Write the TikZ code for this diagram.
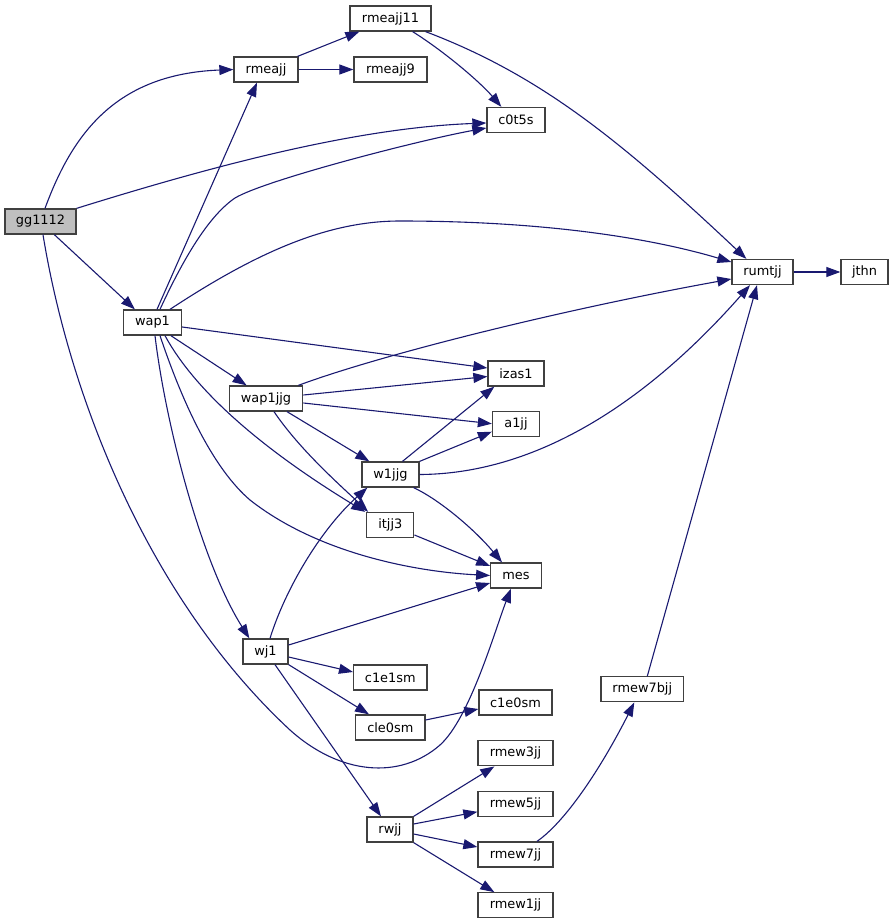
\documentclass[tikz,border=0pt]{standalone}
\usepackage{fontspec}
\setmainfont{DejaVu Sans}
\usetikzlibrary{arrows.meta}
\definecolor{edgeblue}{HTML}{191970}
\definecolor{rootgrey}{HTML}{BFBFBF}
\tikzset{
  fn/.style={draw=black!75, line width=1.3pt, fill=white, inner sep=0pt,
    minimum height=25pt, font=\fontsize{12.9}{15}\selectfont, text=black},
  call/.style={draw=edgeblue, line width=1.1pt, -{Triangle[length=14pt,width=10pt]}},
}
\begin{document}
\begin{tikzpicture}[x=1pt,y=-1pt]
\useasboundingbox (0,0) rectangle (893,924);
% nodes
\node[fn, fill=rootgrey, minimum width=71pt] (gg1112) at (40.5,221.5) {gg1112};
\node[fn, minimum width=64pt] (rmeajj) at (266,69.5) {rmeajj};
\node[fn, minimum width=81pt] (rmeajj11) at (390.5,18.5) {rmeajj11};
\node[fn, minimum width=73pt] (rmeajj9) at (390.5,69.5) {rmeajj9};
\node[fn, minimum width=58pt] (c0t5s) at (516,120) {c0t5s};
\node[fn, minimum width=61pt] (rumtjj) at (762.5,272) {rumtjj};
\node[fn, minimum width=47pt] (jthn) at (864.5,272) {jthn};
\node[fn, minimum width=58pt] (wap1) at (152.5,322.5) {wap1};
\node[fn, minimum width=73.5pt] (wap1jjg) at (266,398.5) {wap1jjg};
\node[fn, minimum width=56pt] (izas1) at (516,373.5) {izas1};
\node[fn, minimum width=47pt] (a1jj) at (516,423.7) {a1jj};
\node[fn, minimum width=57pt] (w1jjg) at (390.5,474.5) {w1jjg};
\node[fn, minimum width=47pt] (itjj3) at (390.3,525) {itjj3};
\node[fn, minimum width=50.5pt] (mes) at (516,575.5) {mes};
\node[fn, minimum width=45pt] (wj1) at (265.5,651.5) {wj1};
\node[fn, minimum width=73.3pt] (c1e1sm) at (390.3,677.5) {c1e1sm};
\node[fn, minimum width=69.3pt] (cle0sm) at (390.3,727.5) {cle0sm};
\node[fn, minimum width=73pt] (c1e0sm) at (515.5,702.5) {c1e0sm};
\node[fn, minimum width=82.7pt] (rmew7bjj) at (642.3,689.3) {rmew7bjj};
\node[fn, minimum width=75pt] (rmew3jj) at (515.5,753.3) {rmew3jj};
\node[fn, minimum width=75pt] (rmew5jj) at (515.5,803.8) {rmew5jj};
\node[fn, minimum width=46pt] (rwjj) at (390,829.5) {rwjj};
\node[fn, minimum width=75pt] (rmew7jj) at (515.5,854.5) {rmew7jj};
\node[fn, minimum width=75pt] (rmew1jj) at (515.5,905.3) {rmew1jj};
% edges from gg1112
\draw[call] ([xshift=4.5pt]gg1112.north) .. controls (72,135) and (115,74) .. (rmeajj.west);
\draw[call] (gg1112.north east) .. controls (200,170) and (350,128) .. ([yshift=-3pt]c0t5s.west);
\draw[call] ([xshift=50pt]gg1112.south west) -- ([xshift=12pt]wap1.north west);
\draw[call] ([xshift=2.5pt]gg1112.south) .. controls (70,400) and (150,600) .. (290,730)
  .. controls (340,775) and (400,780) .. (440,745)
  .. controls (470,718) and (495,630) .. ([xshift=-5pt]mes.south);
% rmeajj, rmeajj11
\draw[call] ([xshift=-1pt]rmeajj.north east) -- ([xshift=10pt]rmeajj11.south west);
\draw[call] (rmeajj.east) -- (rmeajj9.west);
\draw[call] ([xshift=-19pt]rmeajj11.south east) .. controls (445,52) and (480,82) .. ([xshift=15pt]c0t5s.north west);
\draw[call] ([xshift=-6pt]rmeajj11.south east) .. controls (540,75) and (620,140) .. ([xshift=15pt]rumtjj.north west);
% wap1
\draw[call] ([xshift=4.5pt]wap1.north) -- ([xshift=-9pt]rmeajj.south);
\draw[call] ([xshift=7.5pt]wap1.north) .. controls (185,255) and (210,215) .. (235,198)
  .. controls (265,180) and (420,140) .. ([yshift=-8pt]c0t5s.west);
\draw[call] ([xshift=17.5pt]wap1.north) .. controls (260,250) and (330,221) .. (400,221)
  .. controls (530,221) and (640,235) .. ([yshift=10pt]rumtjj.west);
\draw[call] ([yshift=-4.5pt]wap1.east) -- ([yshift=5.5pt]izas1.west);
\draw[call] ([xshift=48pt]wap1.south west) -- ([xshift=18pt]wap1jjg.north west);
\draw[call] ([xshift=2.5pt]wap1.south) .. controls (165,420) and (200,560) .. ([xshift=7pt]wj1.north west);
\draw[call] ([xshift=7.5pt]wap1.south) .. controls (185,410) and (215,470) .. (250,500)
  .. controls (320,555) and (420,572) .. (mes.west);
\draw[call] ([xshift=12.5pt]wap1.south) .. controls (200,400) and (280,460) .. ([xshift=-1pt]itjj3.north west);
% wap1jjg
\draw[call] ([xshift=-5pt]wap1jjg.north east) .. controls (380,355) and (560,310) .. ([yshift=-7pt]rumtjj.west);
\draw[call] ([yshift=3.5pt]wap1jjg.east) -- ([yshift=-3pt]izas1.west);
\draw[call] ([yshift=-4.5pt]wap1jjg.east) -- (a1jj.west);
\draw[call] ([xshift=21pt]wap1jjg.south) -- ([xshift=8pt]w1jjg.north west);
\draw[call] ([xshift=8pt]wap1jjg.south) .. controls (300,450) and (340,485) .. ([xshift=2pt]itjj3.north west);
% w1jjg
\draw[call] ([xshift=12pt]w1jjg.north) -- ([xshift=7pt]izas1.south west);
\draw[call] (w1jjg.north east) -- ([yshift=-8pt]a1jj.west);
\draw[call] (w1jjg.east) .. controls (530,474) and (640,410) .. ([xshift=-12.5pt]rumtjj.south);
\draw[call] ([xshift=-6pt]w1jjg.south east) .. controls (440,500) and (475,530) .. ([xshift=-14pt]mes.north);
% itjj3
\draw[call] ([yshift=-10pt]itjj3.east) -- ([yshift=9.5pt]mes.west);
% wj1
\draw[call] ([xshift=4.5pt]wj1.north) .. controls (285,590) and (320,530) .. ([xshift=6pt]w1jjg.south west);
\draw[call] ([yshift=6.5pt]wj1.east) -- ([yshift=-7.5pt]mes.west);
\draw[call] ([yshift=-5.5pt]wj1.east) -- ([yshift=5.5pt]c1e1sm.west);
\draw[call] (wj1.south east) -- ([xshift=14pt]cle0sm.north west);
\draw[call] ([xshift=9.5pt]wj1.south) -- ([xshift=-9pt]rwjj.north);
% cle0sm
\draw[call] ([yshift=7.5pt]cle0sm.east) -- ([yshift=-6.5pt]c1e0sm.west);
% rwjj
\draw[call] (rwjj.north east) -- ([xshift=17pt]rmew3jj.south west);
\draw[call] ([yshift=5.5pt]rwjj.east) -- ([yshift=-8pt]rmew5jj.west);
\draw[call] ([yshift=-4.5pt]rwjj.east) -- ([yshift=7.5pt]rmew7jj.west);
\draw[call] (rwjj.south east) -- ([xshift=17pt]rmew1jj.north west);
% rmew7jj, rmew7bjj, rumtjj
\draw[call] ([xshift=21.5pt]rmew7jj.north) .. controls (565,822) and (600,770) .. ([xshift=-8pt]rmew7bjj.south);
\draw[call] ([xshift=5pt]rmew7bjj.north) -- ([xshift=-5.5pt]rumtjj.south);
\draw[call] (rumtjj.east) -- (jthn.west);
\end{tikzpicture}
\end{document}
